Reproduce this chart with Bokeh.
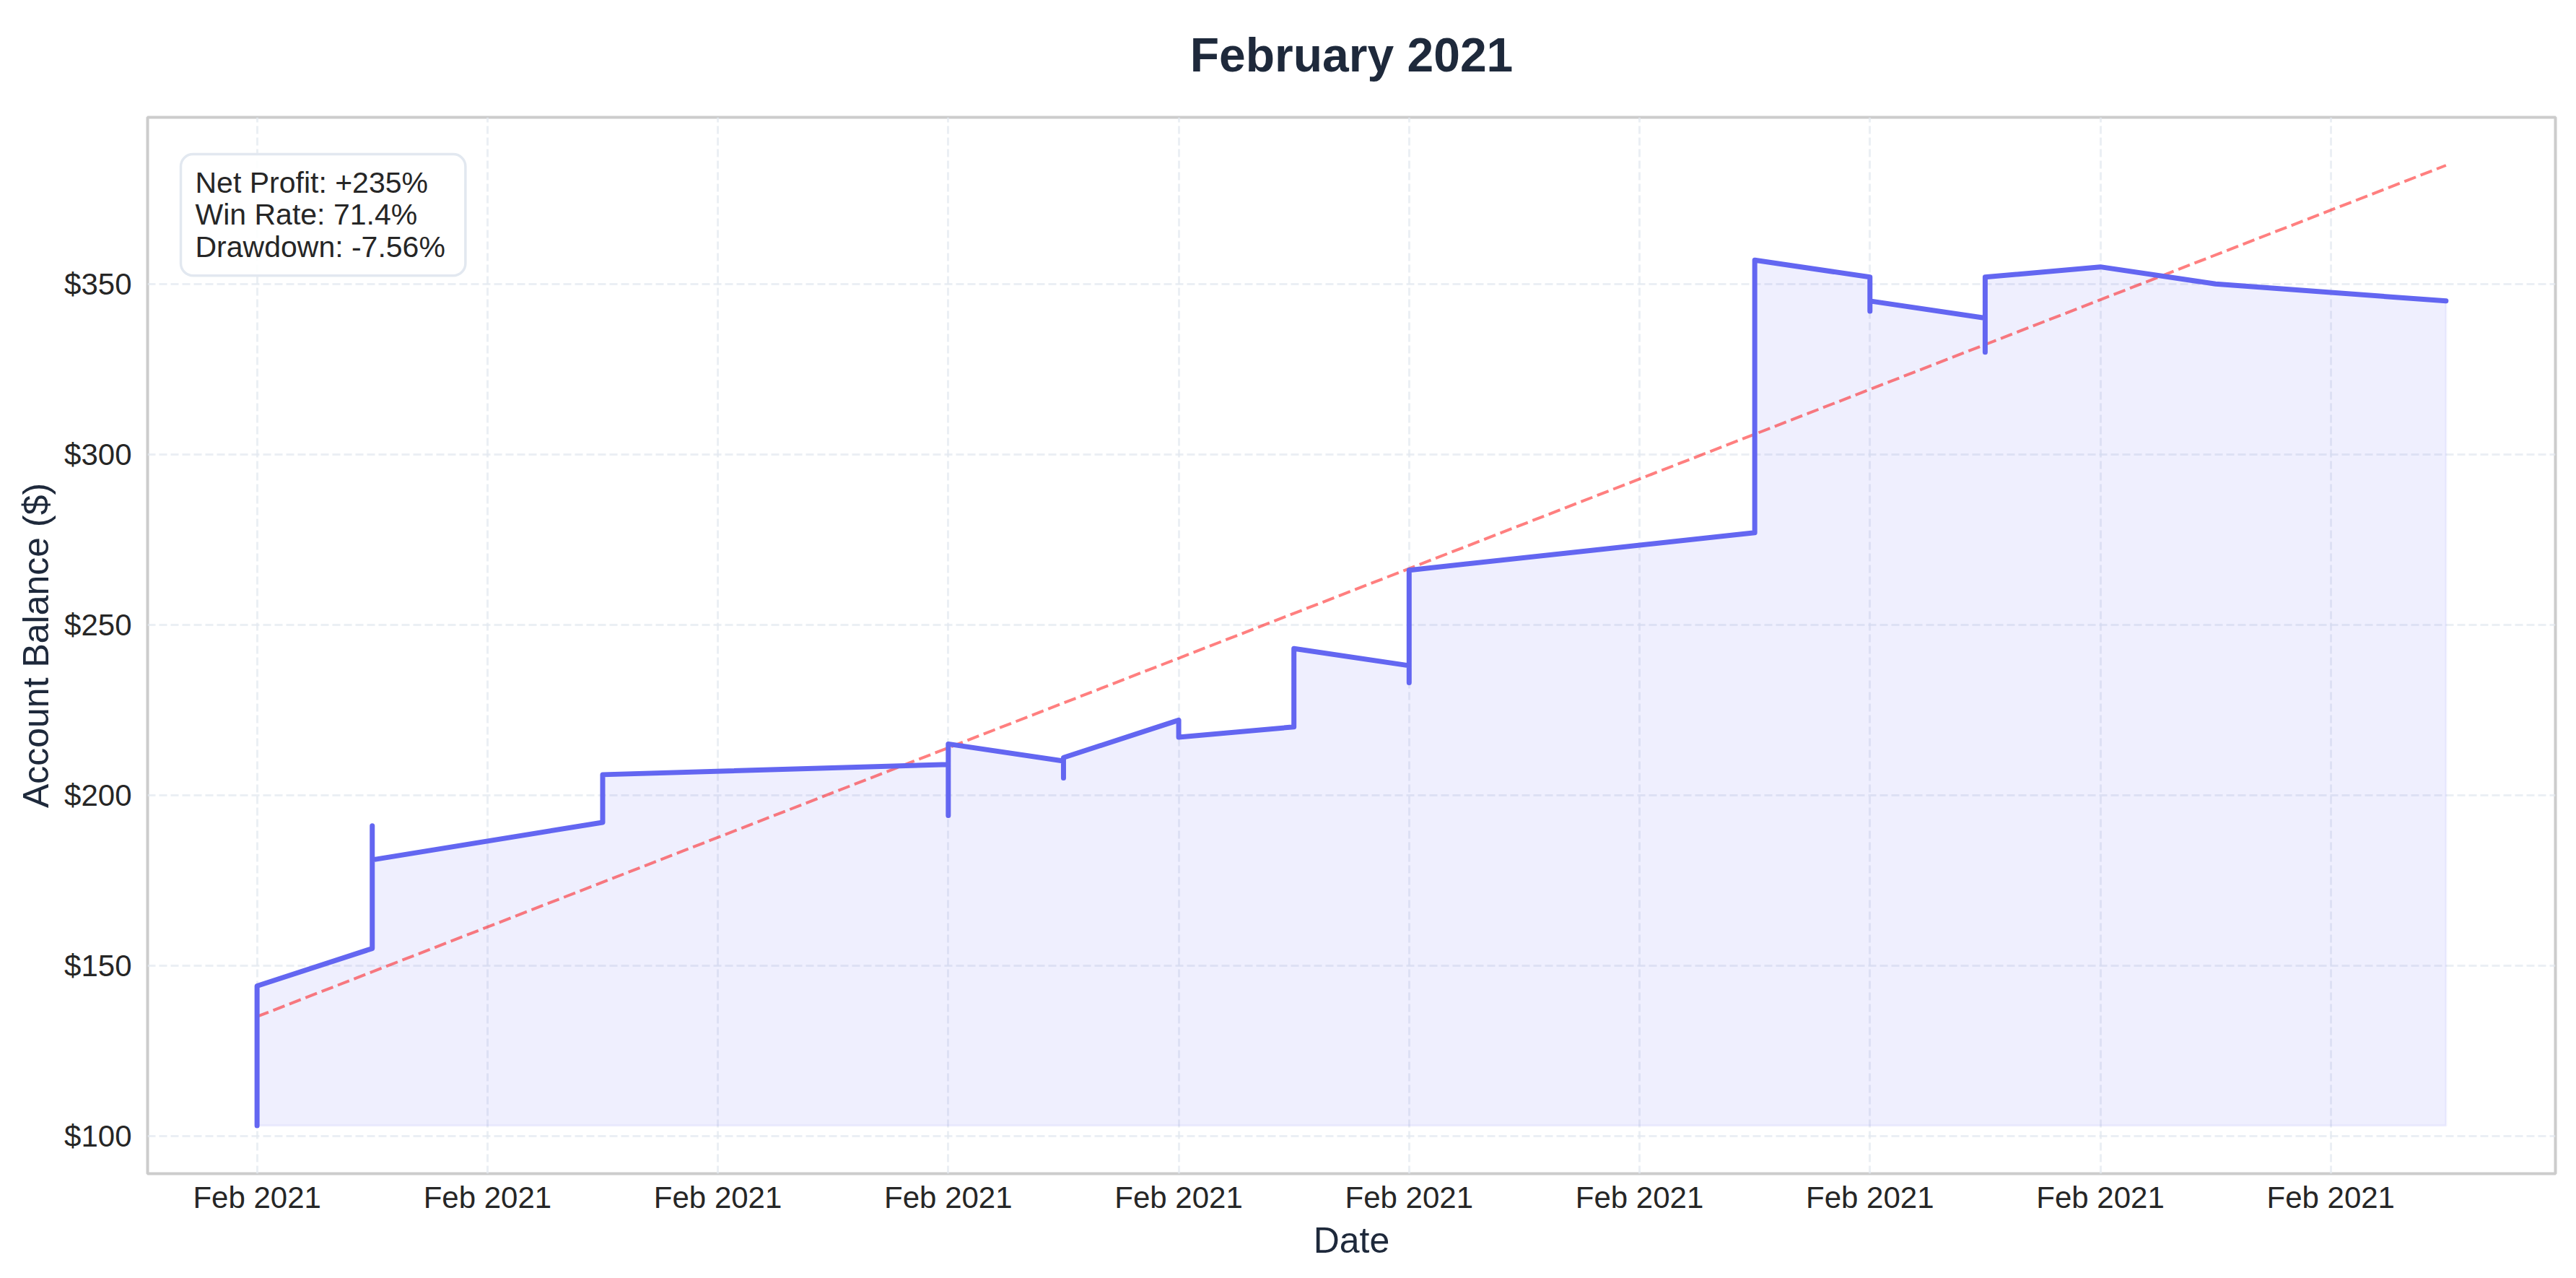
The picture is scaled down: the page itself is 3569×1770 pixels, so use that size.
from datetime import datetime, timedelta

from bokeh.plotting import figure
from bokeh.layouts import column
from bokeh.models import (Range1d, FixedTicker, DatetimeTickFormatter,
                          NumeralTickFormatter, Label, ColumnDataSource)
from bokeh.core.properties import value
from bokeh.embed import file_html
from bokeh.resources import INLINE

# ---------------- data ----------------
trade_days = [1, 1, 2, 2, 2, 4, 4, 7, 7, 7, 8, 8, 8, 9, 9, 10, 10,
              11, 11, 11, 14, 14, 15, 15, 15, 16, 16, 16, 17, 18, 20]
balances = [103, 144, 155, 191, 181, 192, 206, 209, 194, 215, 210, 205, 211,
            222, 217, 220, 243, 238, 233, 266, 277, 357, 352, 342, 345,
            340, 330, 352, 355, 350, 345]
trend_values = [135, 384.8]          # dashed trend line, first and last day
tick_days = [1, 3, 5, 7, 9, 11, 13, 15, 17, 19]
y_ticks = [100, 150, 200, 250, 300, 350]
title_text = "February 2021"
net_profit = "+235%"
win_rate = "71.4%"
drawdown = "-7.56%"

# ---------------- build ----------------
dates = [datetime(2021, 2, d) for d in trade_days]
initial_balance = balances[0]
trend_dates = [dates[0], dates[-1]]
tick_ms = [datetime(2021, 2, d).timestamp() * 1000 for d in tick_days]

span = dates[-1] - dates[0]
x_start = dates[0] - span * 0.05
x_end = dates[-1] + span * 0.05
y_lo = min(balances + trend_values)
y_hi = max(balances + trend_values)
y_start = y_lo - (y_hi - y_lo) * 0.05
y_end = y_hi + (y_hi - y_lo) * 0.05

FONT = "Liberation Sans"
DARK = "#1e293b"
TICK = "#262626"
LINE = "#6366f1"

BL, BR = 204, 13
FW, FH = 3336, 1463
TOTAL_W = BL + FW + BR
TITLE_H = 120

# ---- title strip (its own small figure, aligned with the main frame) ----
t = figure(width=TOTAL_W, height=TITLE_H, title=None, output_backend="svg",
           toolbar_location=None, x_axis_location=None, y_axis_location=None,
           x_range=Range1d(0, FW), y_range=Range1d(0, TITLE_H),
           min_border=0, min_border_left=BL, min_border_right=BR,
           min_border_top=0, min_border_bottom=0, outline_line_color=None)
t.xgrid.visible = False
t.ygrid.visible = False
t.background_fill_color = "white"
t.border_fill_color = "white"
t.text(x=[FW / 2], y=[TITLE_H - 75], text=[title_text],
       text_align="center", text_baseline="alphabetic",
       text_font=value(FONT), text_font_size="66px",
       text_font_style="bold", text_color=DARK)

# ---- main chart ----
p = figure(x_axis_type="datetime", output_backend="svg", toolbar_location=None,
           frame_width=FW, frame_height=FH,
           min_border_left=BL, min_border_right=BR,
           min_border_top=162 - TITLE_H, min_border_bottom=127,
           x_range=Range1d(x_start, x_end), y_range=Range1d(y_start, y_end))

p.background_fill_color = "white"
p.border_fill_color = "white"
p.outline_line_color = "#cccccc"
p.outline_line_width = 4

# fill under curve
xs = dates + dates[::-1]
ys = balances + [initial_balance] * len(balances)
p.patch(xs, ys, fill_color=LINE, fill_alpha=0.1, line_color=LINE,
        line_alpha=0.08, line_width=3)

# trend line
p.line(trend_dates, trend_values, line_color="red", line_alpha=0.5,
       line_width=4, line_dash="17 7")

# equity curve
src = ColumnDataSource(dict(x=dates, y=balances))
p.line("x", "y", source=src, line_color=LINE, line_width=7,
       line_join="round", line_cap="round")

# axes
p.xaxis.ticker = FixedTicker(ticks=tick_ms)
fmt = "%b %Y"
p.xaxis.formatter = DatetimeTickFormatter(
    microseconds=fmt, milliseconds=fmt, seconds=fmt, minsec=fmt, minutes=fmt,
    hourmin=fmt, hours=fmt, days=fmt, months=fmt, years=fmt)
p.yaxis.ticker = FixedTicker(ticks=y_ticks)
p.yaxis.formatter = NumeralTickFormatter(format="$0")

p.xaxis.axis_label = "Date"
p.yaxis.axis_label = "Account Balance ($)"
for ax in (p.xaxis[0], p.yaxis[0]):
    ax.axis_line_color = None
    ax.major_tick_line_color = None
    ax.minor_tick_line_color = None
    ax.major_label_text_font = FONT
    ax.major_label_text_font_size = "42px"
    ax.major_label_text_color = TICK
    ax.axis_label_text_font = FONT
    ax.axis_label_text_font_size = "50px"
    ax.axis_label_text_font_style = "normal"
    ax.axis_label_text_color = DARK
p.xaxis.major_label_standoff = 3
p.xaxis.axis_label_standoff = 5
p.yaxis.major_label_standoff = 16
p.yaxis.axis_label_standoff = 8

for g in (p.xgrid[0], p.ygrid[0]):
    g.grid_line_color = "#e2e8f0"
    g.grid_line_alpha = 0.7
    g.grid_line_width = 3
    g.grid_line_dash = "11 5"

# stats box (top-left of the frame)
px_y = (y_end - y_start) / FH
lx = x_start + (x_end - x_start) * (46 / FW)
ly = y_end - 51 * px_y
stats = Label(x=lx, y=ly, anchor="top_left",
              text=f"Net Profit: {net_profit}\nWin Rate: {win_rate}\nDrawdown: {drawdown}",
              text_font=FONT, text_font_size="41px", text_color="#262626",
              text_line_height=0.97,
              background_fill_color="white", background_fill_alpha=0.9,
              border_line_color="#e2e8f0", border_line_width=3.5,
              border_radius=17,
              padding=dict(left=20, right=28, top=16, bottom=17))
p.add_layout(stats)

layout = column(t, p, spacing=0)
open("out.html", "w").write(file_html(layout, INLINE))
